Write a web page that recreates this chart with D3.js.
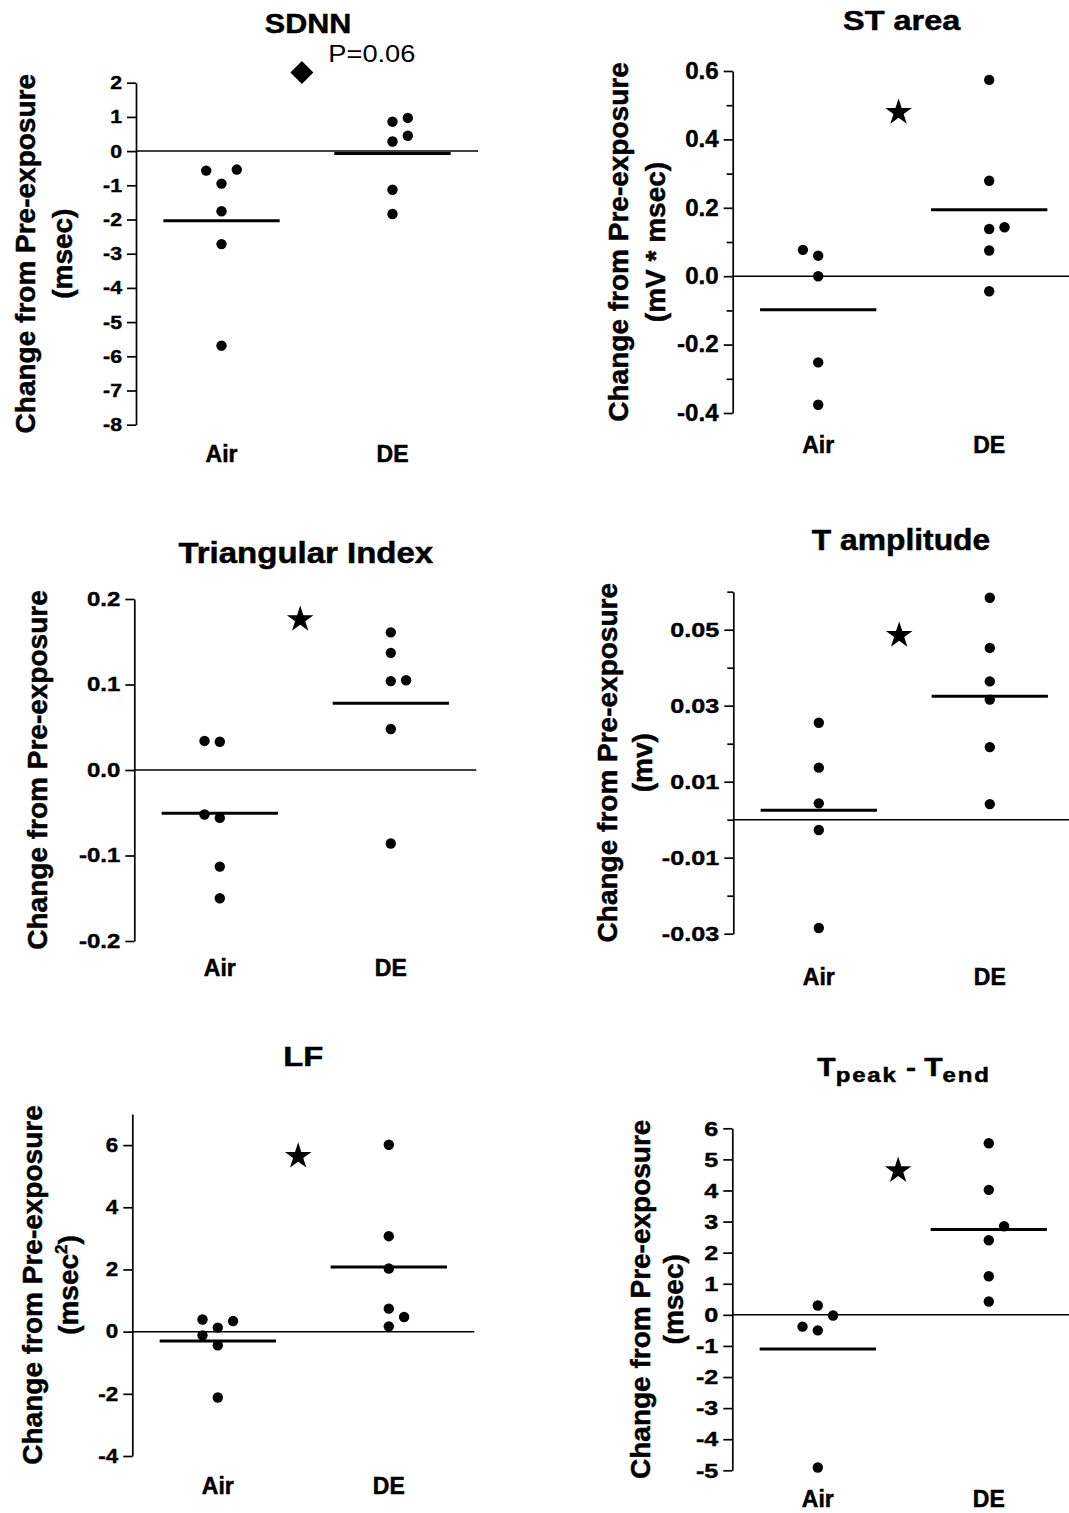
<!DOCTYPE html>
<html lang="en">
<head>
<meta charset="UTF-8">
<title>Change from Pre-exposure</title>
<style>
    body { margin: 0; background: #fff; }
    svg { display: block; font-family: "Liberation Sans", Arial, sans-serif; }
    .axis path, .axis line { stroke: #000; stroke-width: 1.7; }
    .axis text { font-family: "Liberation Sans", Arial, sans-serif; font-weight: bold; fill: #000; stroke: #000; stroke-width: 0.4; }
    .title, .ylabel, .cat { font-weight: bold; fill: #000; stroke: #000; stroke-width: 0.5; }
</style>
<script src="https://cdn.jsdelivr.net/npm/d3@7"></script>
</head>
<body>
<svg id="chart" width="1069" height="1513"></svg>
<script>
const groups = ['Air', 'DE'];

// change from pre-exposure, one value per subject
const sdnnAir = [-0.54, -0.57, -0.95, -1.76, -2.72, -5.69];
const sdnnDE  = [0.97, 0.86, 0.45, 0.28, -1.13, -1.84];
const stAir   = [0.077, 0.060, 0.0, -0.252, -0.376];
const stDE    = [0.574, 0.279, 0.143, 0.138, 0.075, -0.044];
const triAir  = [0.034, 0.033, -0.052, -0.056, -0.113, -0.150];
const triDE   = [0.161, 0.137, 0.105, 0.104, 0.048, -0.086];
const tampAir = [0.0255, 0.0137, 0.0043, -0.0027, -0.0285];
const tampDE  = [0.0584, 0.0452, 0.0364, 0.0316, 0.0191, 0.0041];
const lfAir   = [0.39, 0.34, 0.13, -0.12, -0.44, -2.12];
const lfDE    = [6.01, 3.07, 2.03, 0.74, 0.47, 0.17];
const tpAir   = [0.30, -0.02, -0.38, -0.50, -4.91];
const tpDE    = [5.52, 4.02, 2.85, 2.40, 1.24, 0.43];

// tick labels
const sdnnTicks = [-8, -7, -6, -5, -4, -3, -2, -1, 0, 1, 2];
const stTicks   = [-0.4, -0.2, 0.0, 0.2, 0.4, 0.6];
const stMinor   = [-0.3, -0.1, 0.1, 0.3, 0.5];
const triTicks  = [-0.2, -0.1, 0.0, 0.1, 0.2];
const tampTicks = [-0.03, -0.01, 0.01, 0.03, 0.05];
const tampMinor = [-0.02, 0.0, 0.02, 0.04, 0.06];
const lfTicks   = [-4, -2, 0, 2, 4, 6];
const tpTicks   = [-5, -4, -3, -2, -1, 0, 1, 2, 3, 4, 5, 6];

const SIZE = 342;      // plot area is square
const JIT = 15.3;      // horizontal spacing of crowded points
const GAP = 15;        // vertical distance under which points get spread
const TICK = 9, PAD = 5;

const panels = [
    { title: 'SDNN', air: sdnnAir, de: sdnnDE, domain: [-8, 2], ticks: sdnnTicks, minor: [], dec: 0,
      ox: 136, oy: 82.7, tx: 308, ty: 33.3, tfs: 28, tsx: 1.09, tickFs: 19, tickSx: 1.12, catY: 379,
      ylab: ['Change from Pre-exposure', '(msec)'], ylabX: [-101, -64],
      mark: 'diamond', markY: 2.30, note: 'P=0.06' },
    { title: 'ST area', air: stAir, de: stDE, domain: [-0.4, 0.6], ticks: stTicks, minor: stMinor, dec: 1,
      ox: 732.7, oy: 71, tx: 901.7, ty: 30, tfs: 27.5, tsx: 1.18, tickFs: 23, tickSx: 1.05, catY: 382.3,
      ylab: ['Change from Pre-exposure', '(mV * msec)'], ylabX: [-104.4, -67.7],
      mark: 'star', markY: 0.479 },
    { title: 'Triangular Index', air: triAir, de: triDE, domain: [-0.2, 0.2], ticks: triTicks, minor: [], dec: 1,
      ox: 134.3, oy: 599, tx: 305.8, ty: 563.3, tfs: 30, tsx: 1.1, tickFs: 20, tickSx: 1.2, catY: 376.7,
      ylab: ['Change from Pre-exposure'], ylabX: [-87.6],
      mark: 'star', markY: 0.176 },
    { title: 'T amplitude', air: tampAir, de: tampDE, domain: [-0.03, 0.06], ticks: tampTicks, minor: tampMinor, dec: 2,
      ox: 733.3, oy: 591.7, tx: 901, ty: 550, tfs: 30, tsx: 1.06, tickFs: 21, tickSx: 1.2, catY: 393.3,
      ylab: ['Change from Pre-exposure', '(mv)'], ylabX: [-116.6, -81.3],
      mark: 'star', markY: 0.0485 },
    { title: 'LF', air: lfAir, de: lfDE, domain: [-4, 7], ticks: lfTicks, minor: [], dec: 0,
      ox: 132.3, oy: 1114, tx: 303.3, ty: 1065.7, tfs: 28.5, tsx: 1.15, tickFs: 19.5, tickSx: 1.15, catY: 380,
      ylab: ['Change from Pre-exposure', '(msec2)'], ylabX: [-90.6, -54.3],
      mark: 'star', markY: 5.64 },
    { title: 'Tpeak - Tend', air: tpAir, de: tpDE, domain: [-5, 6], ticks: tpTicks, minor: [], dec: 0,
      ox: 732.3, oy: 1128.3, tx: 904, ty: 1076, tfs: 25, tsx: 1.2, tickFs: 21, tickSx: 1.2, catY: 378.7,
      ylab: ['Change from Pre-exposure', '(msec)'], ylabX: [-82.3, -49.3],
      mark: 'star', markY: 4.64 }
];

const svg = d3.select('#chart');

// spread points that would overlap: lowest first, centre column, then outward, then inward
function jitter(values, y, outward) {
    const order = d3.range(values.length).sort((a, b) => values[a] - values[b]);
    const slots = [0, outward, -outward];
    const placed = [];
    const out = [];
    order.forEach(i => {
        const py = y(values[i]);
        let s = slots.find(s => !placed.some(p => p.s === s && Math.abs(p.y - py) < GAP));
        if (s === undefined) s = 0;
        placed.push({ s: s, y: py });
        out[i] = s;
    });
    return out;
}

function drawPanel(p) {
    const g = svg.append('g').attr('transform', `translate(${p.ox},${p.oy})`);
    const x = d3.scaleLinear().domain([0.5, 2.5]).range([0, SIZE]);
    const y = d3.scaleLinear().domain(p.domain).range([SIZE, 0]);
    const fmt = d => d3.format(`.${p.dec}f`)(Math.abs(d) < 1e-9 ? 0 : d).replace('\u2212', '-');

    // zero reference
    g.append('line')
        .attr('x1', x(0.5)).attr('x2', x(2.5))
        .attr('y1', y(0)).attr('y2', y(0))
        .attr('stroke', '#000').attr('stroke-width', 1.5);

    if (p.minor.length) {
        g.append('g').attr('class', 'axis')
            .call(d3.axisLeft(y).tickValues(p.minor).tickSize(6).tickFormat(''))
            .call(s => s.select('.domain').remove());
    }
    g.append('g').attr('class', 'axis')
        .call(d3.axisLeft(y).tickValues(p.ticks).tickSize(TICK).tickSizeOuter(0).tickPadding(PAD).tickFormat(fmt))
        .call(s => s.selectAll('.tick text')
            .attr('x', 0)
            .attr('transform', `translate(${-(TICK + PAD)},0) scale(${p.tickSx},1)`)
            .style('font-size', p.tickFs + 'px'));

    // category labels
    g.selectAll('text.cat').data(groups).join('text')
        .attr('class', 'cat')
        .attr('x', (d, i) => x(i + 1)).attr('y', p.catY)
        .attr('text-anchor', 'middle')
        .style('font-size', '23px')
        .text(d => d);

    [p.air, p.de].forEach((vals, gi) => {
        const slots = jitter(vals, y, gi === 0 ? -1 : 1);
        g.append('g').selectAll('circle').data(vals).join('circle')
            .attr('cx', (d, i) => x(gi + 1) + slots[i] * JIT)
            .attr('cy', d => y(d))
            .attr('r', 5.2)
            .attr('fill', '#000');
        const m = d3.mean(vals);
        g.append('line')
            .attr('x1', x(gi + 1 - 0.34)).attr('x2', x(gi + 1 + 0.34))
            .attr('y1', y(m)).attr('y2', y(m))
            .attr('stroke', '#000').attr('stroke-width', 3);
    });

    // significance marker
    const sym = p.mark === 'star'
        ? d3.symbol().type(d3.symbolStar).size(220)
        : d3.symbol().type(d3.symbolSquare).size(265);
    g.append('path')
        .attr('d', sym())
        .attr('fill', '#000')
        .attr('transform', `translate(${x(1.47)},${y(p.markY)})` + (p.mark === 'star' ? '' : ' rotate(45)'));

    if (p.note) {
        svg.append('text')
            .attr('transform', 'translate(328.3,61.7) scale(1.16,1)')
            .style('font-size', '23.5px')
            .text(p.note);
    }

    // y axis title
    p.ylab.forEach((line, li) => {
        const t = g.append('text')
            .attr('class', 'ylabel')
            .attr('transform', `translate(${p.ylabX[li]},${SIZE / 2}) rotate(-90)`)
            .attr('text-anchor', 'middle')
            .style('font-size', '28px');
        if (line === '(msec2)') {
            t.append('tspan').text('(msec');
            t.append('tspan').attr('dy', -11).style('font-size', '17px').text('2');
            t.append('tspan').attr('dy', 11).text(')');
        } else {
            t.text(line);
        }
    });

    // panel title
    const tt = svg.append('text')
        .attr('class', 'title')
        .attr('transform', `translate(${p.tx},${p.ty}) scale(${p.tsx},1)`)
        .attr('text-anchor', 'middle')
        .style('font-size', p.tfs + 'px');
    if (p.title === 'Tpeak - Tend') {
        tt.append('tspan').text('T');
        tt.append('tspan').attr('dy', 6).style('font-size', '20px').style('letter-spacing', '1.5px').text('peak');
        tt.append('tspan').attr('dy', -6).text(' - T');
        tt.append('tspan').attr('dy', 6).style('font-size', '20px').style('letter-spacing', '1.5px').text('end');
    } else {
        tt.text(p.title);
    }
}

panels.forEach(drawPanel);
</script>
</body>
</html>
